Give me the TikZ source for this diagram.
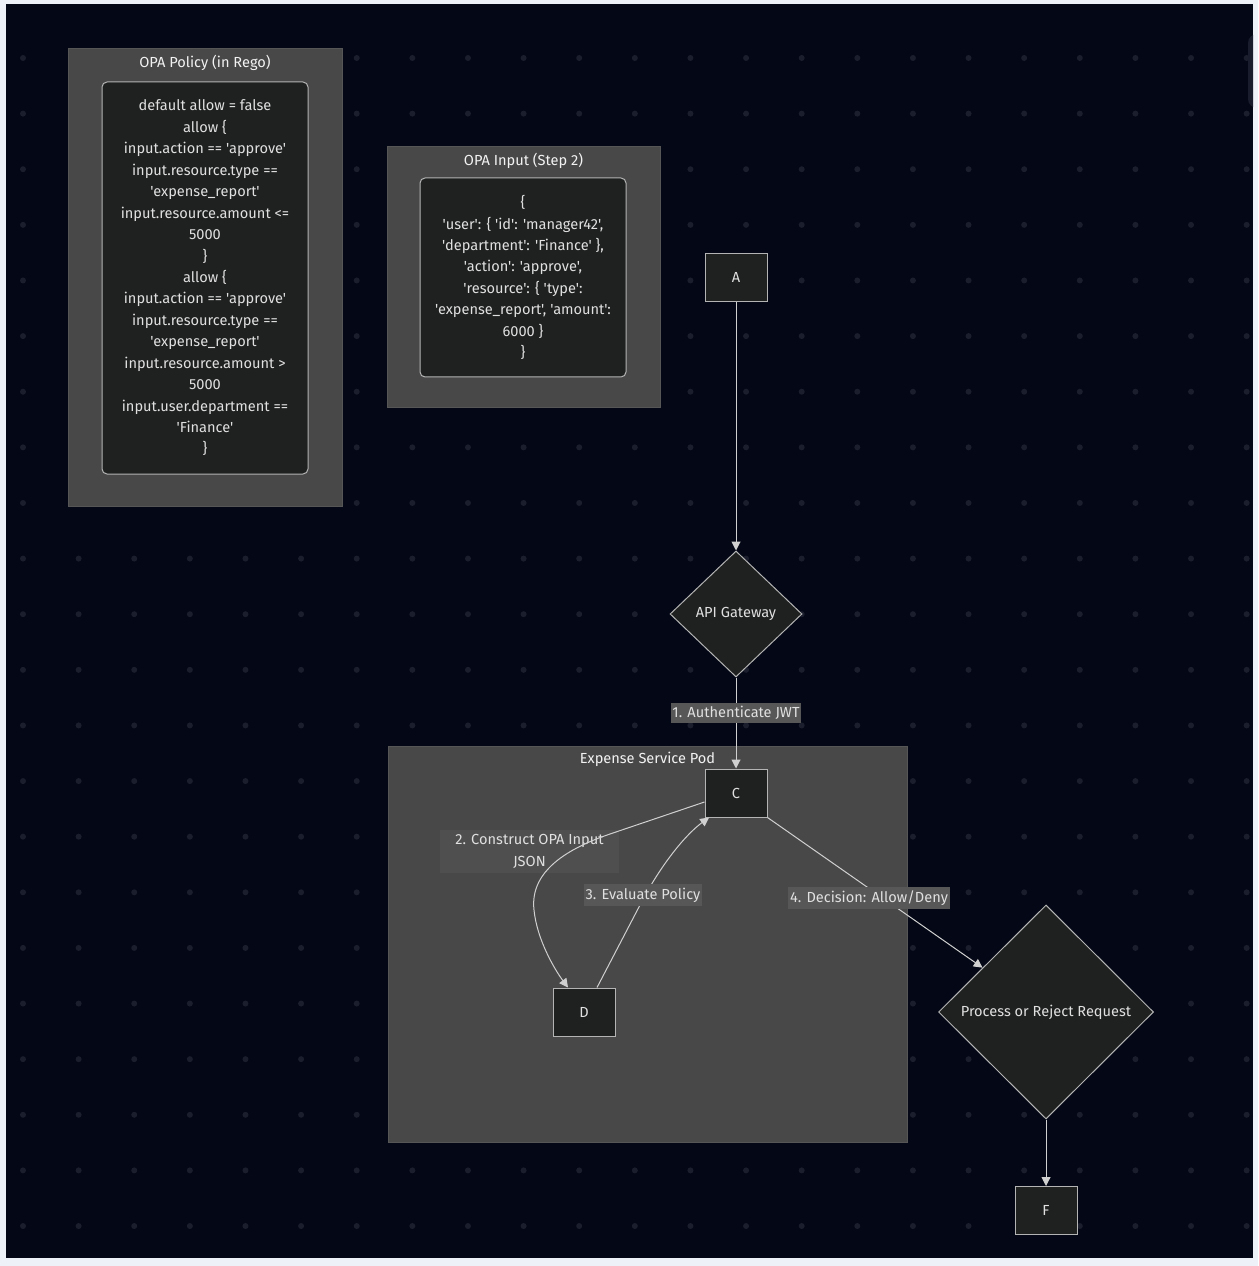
\documentclass[tikz,border=0pt]{standalone}
\usepackage{fontspec}
\setmainfont{Fira Sans}
\newfontfamily\flowfont{Fira Sans}
\usepackage{tikz}
\usetikzlibrary{shapes.geometric, arrows.meta}

\newlength{\pxu}
\setlength{\pxu}{0.02cm}

\definecolor{framec}{HTML}{EEF1F8}
\definecolor{bgdark}{HTML}{040816}
\definecolor{dotc}{HTML}{1B1E2C}
\definecolor{ghostc}{HTML}{181C2C}
\definecolor{clusterfill}{HTML}{484848}
\definecolor{clusterline}{HTML}{565656}
\definecolor{boxfill}{HTML}{1F2020}
\definecolor{boxline}{HTML}{B4B4B4}
\definecolor{linec}{HTML}{D0D0D0}
\definecolor{textc}{HTML}{E0E0E0}
\definecolor{titlec}{HTML}{F2F2F2}
\definecolor{labelfill}{HTML}{575757}
\definecolor{labelfill2}{HTML}{4F4F4F}

\tikzstyle{cluster} = [rectangle, draw=clusterline, fill=clusterfill, line width=1\pxu]
\tikzstyle{title} = [text=titlec, below, yshift=-0.5pt]
\tikzstyle{code} = [rectangle, rounded corners=5\pxu, draw=boxline, fill=boxfill, line width=1\pxu, text=textc, align=center]
\tikzstyle{proc} = [rectangle, minimum width=62\pxu, minimum height=48\pxu, draw=boxline, fill=boxfill, line width=1\pxu, text=textc]
\tikzstyle{decision} = [diamond, draw=boxline, fill=boxfill, line width=1\pxu, inner sep=0pt, text=textc]
\tikzstyle{arrow} = [draw=linec, line width=1\pxu, ->, >={Triangle[length=5pt, width=5pt]}]
\tikzstyle{edgelabel} = [fill=labelfill, text=textc, inner xsep=1pt, inner ysep=2pt]

\begin{document}
\begin{tikzpicture}[x=0.02cm, y=-0.02cm, font=\flowfont\fontsize{8.3}{12.2}\selectfont]
    \useasboundingbox (0,0) rectangle (1258,1266);
    \fill[framec] (0,0) rectangle (1258,1266);
    \fill[bgdark] (6,4) rectangle (1253,1258);
    \foreach \i in {0,...,22}
        \foreach \j in {0,...,21}
            \fill[dotc] (23+55.62*\i, 58+55.62*\j) circle (3\pxu);
    \begin{scope}
        \clip (6,4) rectangle (1253,1258);
        \fill[ghostc, rounded corners=9\pxu] (1248,34) rectangle (1290,108);
    \end{scope}

    % policy and input
    \node(policy) [cluster, minimum width=274\pxu, minimum height=457\pxu] at (205,277.5) {};
    \node(policytitle) [title] at (policy.north) {OPA Policy (in Rego)};
    \node(rego) [code, minimum width=206\pxu, minimum height=392\pxu] at (205,278) {default allow = false\\allow \{\\input.action == 'approve'\\input.resource.type ==\\'expense\_report'\\input.resource.amount <=\\5000\\\}\\allow \{\\input.action == 'approve'\\input.resource.type ==\\'expense\_report'\\input.resource.amount >\\5000\\input.user.department ==\\'Finance'\\\}};

    \node(input) [cluster, minimum width=273\pxu, minimum height=261\pxu] at (523.5,277.5) {};
    \node(inputtitle) [title] at (input.north) {OPA Input (Step 2)};
    \node(json) [code, minimum width=206\pxu, minimum height=199\pxu] at (523,277.5) {\{\\'user': \{ 'id': 'manager42',\\'department': 'Finance' \},\\'action': 'approve',\\'resource': \{ 'type':\\'expense\_report', 'amount':\\6000 \}\\\}};

    % pod
    \node(pod) [cluster, minimum width=519\pxu, minimum height=396\pxu] at (647.5,944) {};
    \node(podtitle) [title] at (pod.north) {Expense Service Pod};

    \node(a) [proc] at (736,277.5) {A};
    \node(api) [decision, minimum width=132\pxu, minimum height=126\pxu] at (736,614) {API Gateway};
    \node(c) [proc] at (736,793) {C};
    \node(d) [proc] at (584,1012) {D};
    \node(process) [decision, minimum width=215\pxu, minimum height=214\pxu] at (1046,1012) {Process or Reject Request};
    \node(f) [proc] at (1046,1210.5) {F};

    \node(label2) [fill=labelfill2, text=textc, align=center, minimum width=179\pxu, minimum height=43\pxu, inner sep=0pt] at (529.5,851.5) {2. Construct OPA Input\\JSON};

    \draw[arrow] (a) -- (api);
    \draw[arrow] (api) -- node[edgelabel, pos=0.39]{1. Authenticate JWT} (c);
    \draw[arrow] ([yshift=-9\pxu]c.west) -- (610,834) .. controls (560,851) and (530,875) .. (534,910) .. controls (537,940) and (555,970) .. ([xshift=-16\pxu]d.north);
    \draw[arrow] ([xshift=13\pxu]d.north) -- (640,905) .. controls (660,866) and (685,835) .. ([xshift=-27\pxu]c.south);
    \node(label3) [edgelabel] at (643,895) {3. Evaluate Policy};
    \draw[arrow] (c.south east) -- (process);
    \node(label4) [edgelabel] at (869,898) {4. Decision: Allow/Deny};
    \draw[arrow] (process) -- (f);
\end{tikzpicture}
\end{document}
